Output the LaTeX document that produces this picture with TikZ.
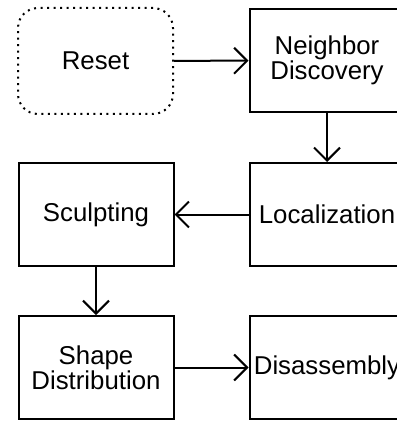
\documentclass[tikz,border=0pt]{standalone}
\usepackage{fontspec}
\setmainfont{Liberation Sans}
\usepackage{tikz}
\usetikzlibrary{arrows.meta,positioning}

\begin{document}
\begin{tikzpicture}[
  x=1pt,y=1pt,
  every node/.style={font=\fontsize{25.8}{24}\selectfont},
  phase/.style={rectangle,draw,line width=2pt,minimum width=155pt,minimum height=103pt,align=center,inner sep=0pt},
  start/.style={phase,rounded corners=20pt,minimum height=106pt,dash pattern=on 2pt off 4.5pt},
  arr/.style={-{Straight Barb[length=13pt,width=26pt,line width=2pt]},line width=2pt}
]
\useasboundingbox (0,0) rectangle (396,-422);
\node[start] (reset) at (95.5,-61) {Reset};
\node[phase] (nd) at (327,-60.5) {Neighbor\\Discovery};
\node[phase] (loc) at (327,-214.5) {Localization};
\node[phase] (sculpt) at (96,-214.5) {Sculpting};
\node[phase] (shape) at (96,-367.5) {Shape\\Distribution};
\node[phase] (dis) at (327,-367.5) {Disassembly};
\foreach \u/\v in {reset/nd,nd/loc,loc/sculpt,sculpt/shape,shape/dis} \draw[arr] (\u)--(\v);
\end{tikzpicture}
\end{document}
